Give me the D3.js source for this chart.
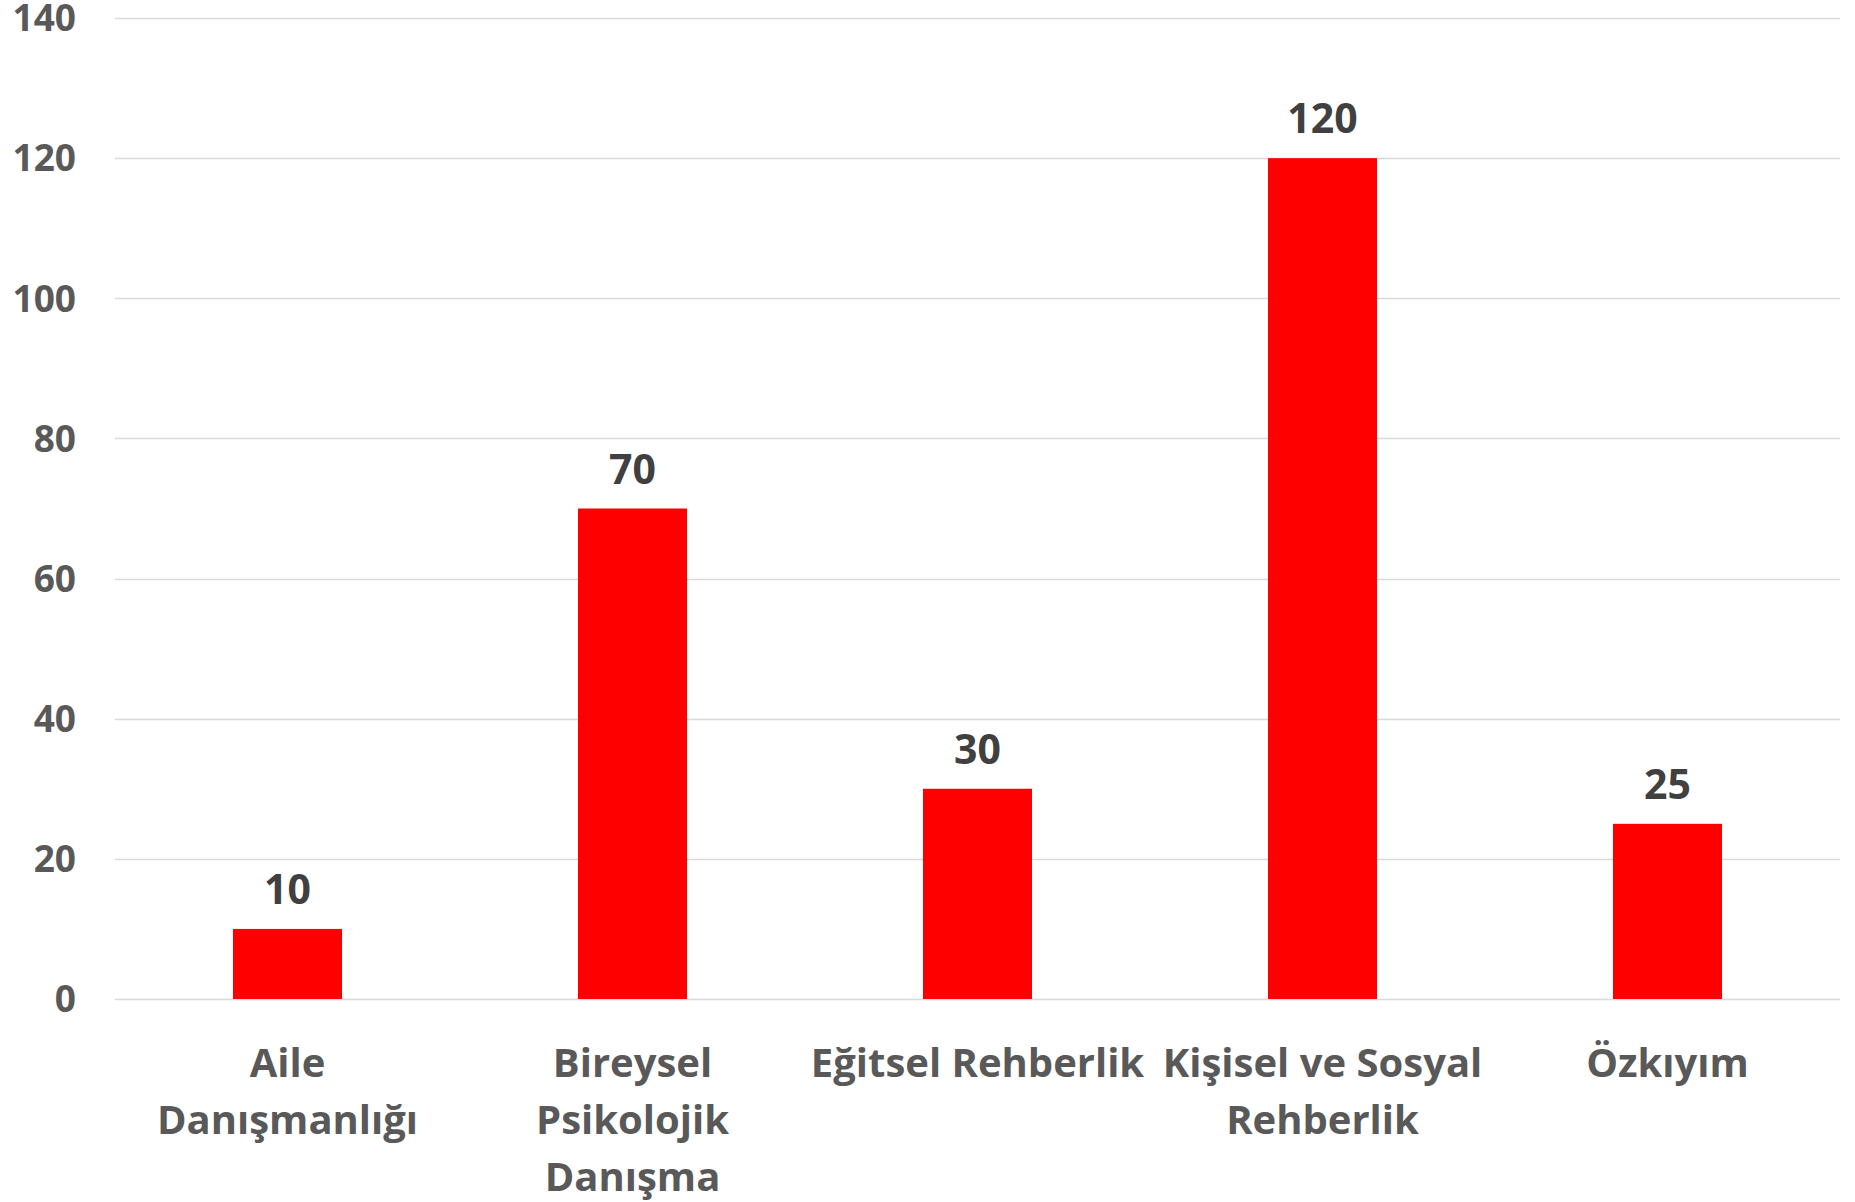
<!DOCTYPE html>
<meta charset="utf-8">
<style>
body {margin: 0; background: #fff;}
.grid line {stroke: #d9d9d9; stroke-width: 1.5;}
.tick-label {font: bold 37px "Open Sans", sans-serif; fill: #595959;}
.cat-label {font: bold 40px "Open Sans", sans-serif; fill: #595959;}
.value-label {font: bold 41px "Open Sans", sans-serif; fill: #404040;}
</style>
<html>
<body>
<script src="https://d3js.org/d3.v7.min.js"></script>
<script>
var width = 1855,
    height = 1202;

// data
var categories = ["Aile Danışmanlığı", "Bireysel Psikolojik Danışma", "Eğitsel Rehberlik", "Kişisel ve Sosyal Rehberlik", "Özkıyım"];
var labelLines = [["Aile", "Danışmanlığı"], ["Bireysel", "Psikolojik", "Danışma"], ["Eğitsel Rehberlik"], ["Kişisel ve Sosyal", "Rehberlik"], ["Özkıyım"]];
var values = [10, 70, 30, 120, 25];
var yTicks = [0, 20, 40, 60, 80, 100, 120, 140];

var margin = {top: 18, right: 15, bottom: 203, left: 115};

var x = d3.scaleBand()
    .domain(categories)
    .range([margin.left, width - margin.right])
    .paddingInner(0.684)
    .paddingOuter(0.342);

var y = d3.scaleLinear()
    .domain([0, 140])
    .range([height - margin.bottom, margin.top]);

var svg = d3.select("body").append("svg")
    .attr("width", width)
    .attr("height", height);

// gridlines
svg.append("g").attr("class", "grid")
  .selectAll("line")
  .data(yTicks)
  .enter().append("line")
    .attr("x1", margin.left)
    .attr("x2", width - margin.right)
    .attr("y1", function(d) { return Math.round(y(d)) + 0.5; })
    .attr("y2", function(d) { return Math.round(y(d)) + 0.5; });

// y tick labels
svg.append("g")
  .selectAll("text")
  .data(yTicks)
  .enter().append("text")
    .attr("class", "tick-label")
    .attr("x", 76)
    .attr("y", function(d) { return y(d); })
    .attr("dy", "0.36em")
    .attr("text-anchor", "end")
    .text(function(d) { return d; });

// bars
svg.append("g")
  .selectAll("rect")
  .data(values)
  .enter().append("rect")
    .attr("x", function(d, i) { return x(categories[i]); })
    .attr("width", x.bandwidth())
    .attr("y", function(d) { return y(d); })
    .attr("height", function(d) { return y(0) - y(d); })
    .attr("fill", "#ff0000");

// value labels
svg.append("g")
  .selectAll("text")
  .data(values)
  .enter().append("text")
    .attr("class", "value-label")
    .attr("x", function(d, i) { return x(categories[i]) + x.bandwidth() / 2; })
    .attr("y", function(d) { return y(d) - 25; })
    .attr("text-anchor", "middle")
    .text(function(d) { return d; });

// category labels
var cat = svg.append("g")
  .selectAll("text")
  .data(categories)
  .enter().append("text")
    .attr("class", "cat-label")
    .attr("x", function(d) { return x(d) + x.bandwidth() / 2; })
    .attr("y", 1077)
    .attr("text-anchor", "middle");

cat.selectAll("tspan")
  .data(function(d, i) { return labelLines[i]; })
  .enter().append("tspan")
    .attr("x", function() { return d3.select(this.parentNode).attr("x"); })
    .attr("dy", function(d, i) { return i ? 57 : 0; })
    .text(function(d) { return d; });
</script>
</body>
</html>
